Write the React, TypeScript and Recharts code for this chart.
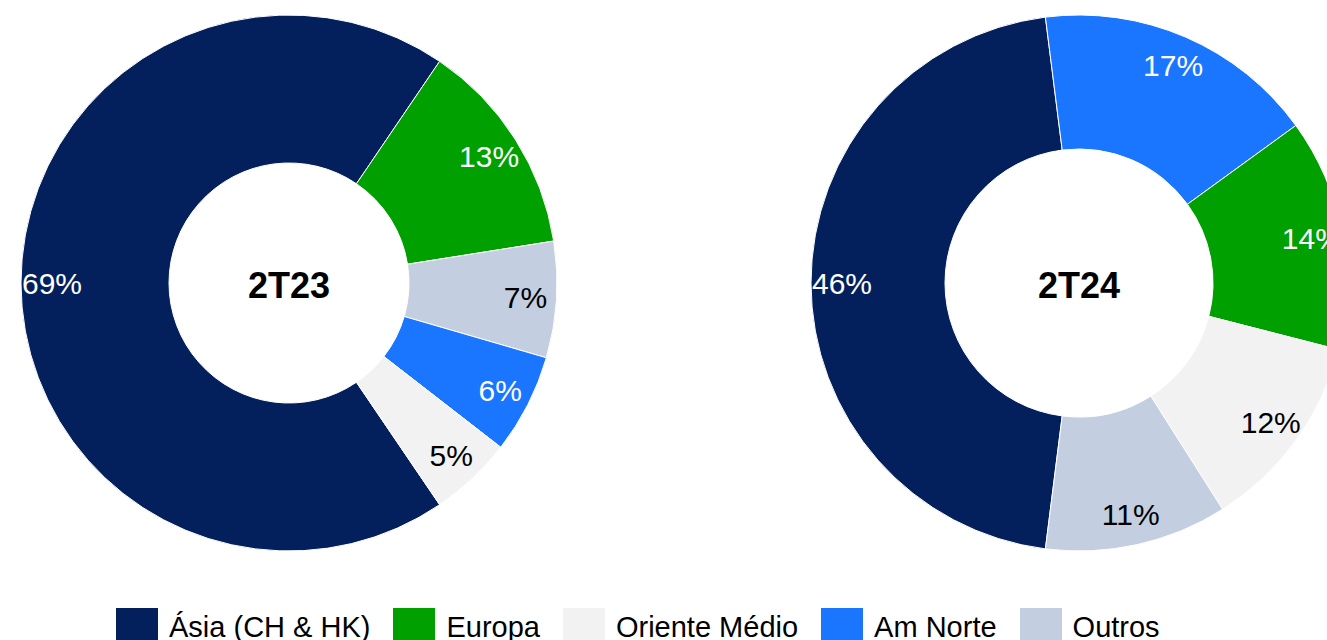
import React from 'react'
import { Pie, PieChart } from 'recharts'

const regions = ['Ásia (CH & HK)', 'Europa', 'Oriente Médio', 'Am Norte', 'Outros']
const regionColors = ['#03205C', '#00A000', '#F2F2F2', '#1A75FF', '#C3CEE0']
const darkRegions = ['Ásia (CH & HK)', 'Europa', 'Am Norte']

const periods = ['2T23', '2T24']
const share2T23 = [69, 13, 5, 6, 7]
const share2T24 = [46, 14, 12, 17, 11]

const FONT = '"Liberation Sans", Arial, Helvetica, sans-serif'

type Slice = { name: string; value: number; fill: string }

// Excel-style: largest slice first, going clockwise
const buildSlices = (values: number[]): Slice[] =>
  regions
    .map((name, i) => ({ name, value: values[i], fill: regionColors[i] }))
    .sort((a, b) => b.value - a.value)

const slices2T23 = buildSlices(share2T23)
const slices2T24 = buildSlices(share2T24)

// first slice centred on the left (9 o'clock)
const startFor = (slices: Slice[]) => {
  const total = slices.reduce((s, d) => s + d.value, 0)
  return 180 + ((slices[0].value / total) * 360) / 2
}

const RAD = Math.PI / 180
const LABEL_R = 237

const renderLabel = (props: any) => {
  const { cx, cy, midAngle, payload, value } = props
  const x = cx + LABEL_R * Math.cos(-midAngle * RAD)
  const y = cy + LABEL_R * Math.sin(-midAngle * RAD)
  const name = payload?.name ?? props.name
  return (
    <text
      x={x}
      y={y}
      textAnchor="middle"
      dominantBaseline="central"
      fill={darkRegions.includes(name) ? '#ffffff' : '#000000'}
      fontSize={30}
      fontFamily={FONT}
    >
      {`${value}%`}
    </text>
  )
}

const Legend = () => (
  <div
    style={{
      position: 'absolute',
      top: 608,
      left: 116,
      display: 'flex',
      fontFamily: FONT,
      fontSize: 29,
      whiteSpace: 'nowrap',
    }}
  >
    {regions.map((name, i) => (
      <div key={name} style={{ display: 'flex', marginRight: 23 }}>
        <div
          style={{
            width: 42,
            height: 42,
            background: regionColors[i],
            marginRight: 11,
          }}
        />
        <div style={{ lineHeight: '29px', marginTop: 5, color: '#000' }}>
          {name}
        </div>
      </div>
    ))}
  </div>
)

const App = () => {
  const s1 = startFor(slices2T23)
  const s2 = startFor(slices2T24)
  return (
    <div
      style={{
        position: 'absolute',
        left: 0,
        top: 0,
        width: 1327,
        height: 640,
        overflow: 'hidden',
        background: '#fff',
      }}
    >
      <PieChart
        width={1327}
        height={640}
        margin={{ top: 0, right: 0, bottom: 0, left: 0 }}
      >
        <Pie
          data={slices2T23}
          dataKey="value"
          nameKey="name"
          cx={289}
          cy={283}
          innerRadius={120}
          outerRadius={268}
          startAngle={s1}
          endAngle={s1 - 360}
          stroke="#ffffff"
          strokeWidth={1}
          label={renderLabel}
          labelLine={false}
          isAnimationActive={false}
        />
        <Pie
          data={slices2T24}
          dataKey="value"
          nameKey="name"
          cx={1079}
          cy={283}
          innerRadius={134}
          outerRadius={268}
          startAngle={s2}
          endAngle={s2 - 360}
          stroke="#ffffff"
          strokeWidth={1}
          label={renderLabel}
          labelLine={false}
          isAnimationActive={false}
        />
        <text
          x={289}
          y={285}
          textAnchor="middle"
          dominantBaseline="central"
          fontSize={36}
          fontWeight="bold"
          fontFamily={FONT}
          fill="#000"
        >
          {periods[0]}
        </text>
        <text
          x={1079}
          y={285}
          textAnchor="middle"
          dominantBaseline="central"
          fontSize={36}
          fontWeight="bold"
          fontFamily={FONT}
          fill="#000"
        >
          {periods[1]}
        </text>
      </PieChart>
      <Legend />
    </div>
  )
}

export default App
